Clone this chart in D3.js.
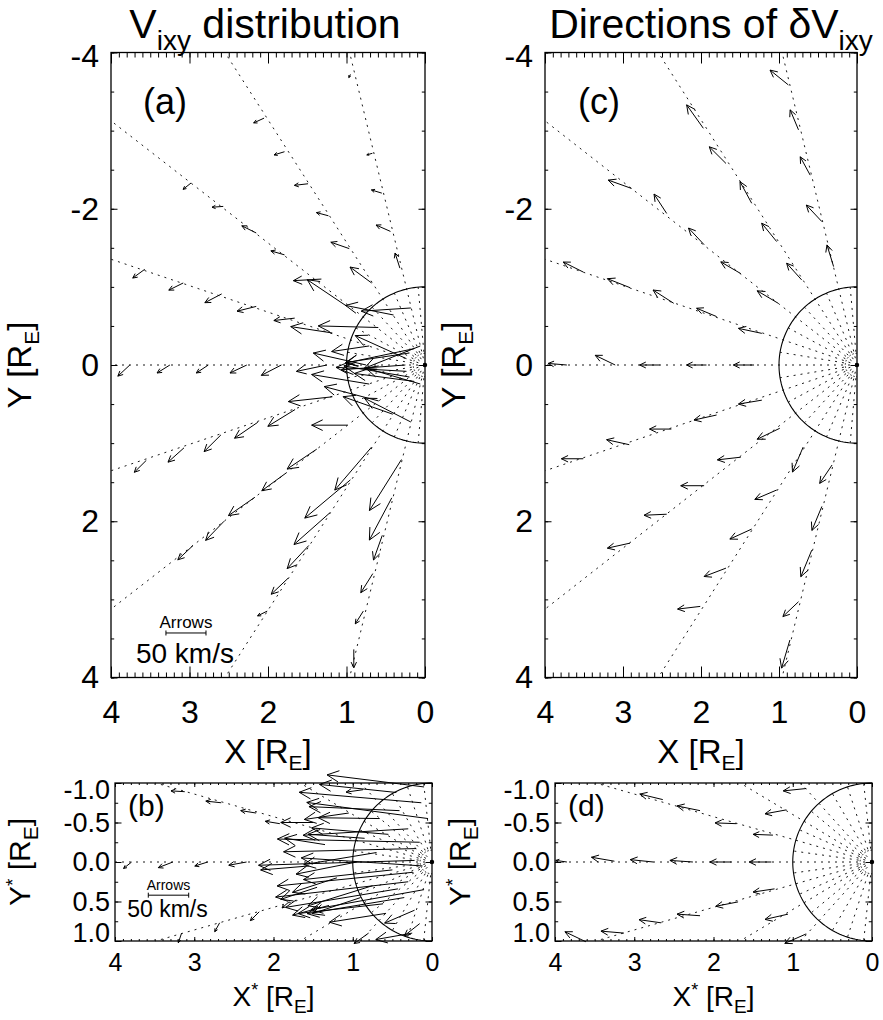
<!DOCTYPE html>
<html>
<head>
<meta charset="utf-8">
<script src="https://cdn.jsdelivr.net/npm/d3@7"></script>
<style>
  body { margin: 0; background: #fff; }
  text { font-family: "Liberation Sans", Arial, Helvetica, sans-serif; fill: #000; }
</style>
</head>
<body>
<svg id="fig" width="883" height="1020"></svg>
<script>
// ---- data ----
const xTickVals = [4, 3, 2, 1, 0];
const yTickValsTop = [-4, -2, 0, 2, 4];
const yTickValsBot = [-1.0, -0.5, 0.0, 0.5, 1.0];

// radial guide lines (degrees from the -X direction, + is +Y)
const rayAnglesTop = [-76.5, -57.5, -38, -18.7, 0, 18.7, 38, 57.5, 76.5];
const innerAnglesTop = [-85, -67, -47.7, -28.3, -9.4, 9.4, 28.3, 47.7, 67, 85];
const rayAnglesBot = [-48, -31, -16, 0, 16, 31, 48];
const innerAnglesBot = [-84, -72, -60, -40, -24, -8, 8, 24, 40, 60, 72, 84];

const legendKms = 50;
const kmsToRE = 0.0102;   // 50 km/s bar is about 0.51 RE long

// panel (a): [X, Y, Vx, Vy] km/s
const vecA = [
  [0.95,-3.72,2,4],[0.67,-2.71,7,2],[0.55,-2.2,13,-4],[0.44,-1.71,18,-8],[0.32,-1.24,6,-19],[0.18,-0.73,62,4],[0.06,-0.243,70,28],
  [2.05,-3.16,13,6],[1.79,-2.73,13,4],[1.49,-2.32,17,2],[1.23,-1.91,15,-4],[0.965,-1.49,23,-8],[0.68,-1.05,27,-20],[0.40,-0.64,60,-12],[0.136,-0.21,85,18],
  [2.98,-2.33,10,8],[2.57,-2.03,14,1],[2.15,-1.69,18,-9],[1.79,-1.41,17,-5],[1.32,-1.10,35,2],[1.0,-0.755,49,-33],[0.595,-0.48,75,-2],[0.197,-0.154,80,12],
  [3.57,-1.225,15,11],[3.08,-1.05,18,9],[2.59,-0.91,21,11],[2.15,-0.75,24,6],[1.66,-0.6,26,3],[1.18,-0.41,52,-8],[0.71,-0.244,47,7],[0.236,-0.081,64,-29],
  [3.76,0,15,14],[3.25,0,16,10],[2.76,0,15,10],[2.27,0,21,10],[1.83,0,25,13],[1.25,0,38,8],[0.75,0,66,-15],[0.25,0,80,6],
  [3.55,1.22,15,15],[3.07,1.06,20,18],[2.6,0.895,21,21],[2.13,0.733,29,20],[1.655,0.57,34,21],[1.18,0.407,55,6],[0.71,0.244,72,-12],[0.236,0.081,88,-5],
  [2.955,2.31,19,18],[2.56,2.0,23,24],[2.167,1.693,33,23],[1.773,1.385,30,22],[1.379,1.077,37,25],[0.985,0.77,45,0],[0.59,0.46,68,-18],[0.197,0.154,82,-14],
  [2.01,3.15,12,6],[1.745,2.73,21,20],[1.48,2.31,27,29],[1.21,1.89,45,40],[0.95,1.47,57,48],[0.68,1.05,46,54],[0.41,0.63,62,-22],[0.136,0.21,75,-10],
  [0.907,3.64,0,23],[0.786,3.15,10,16],[0.665,2.67,15,24],[0.544,2.18,11,31],[0.423,1.70,28,53],[0.30,1.21,40,64],[0.18,0.73,58,-30],[0.06,0.243,68,-20]
];

// panel (b): [X*, Y*, Vx, Vy] km/s
const vecB = [
  [1.92,-0.485,18,-3],[2.22,-0.62,19,-3],[2.66,-0.75,19,-2],[3.12,-0.89,17,-1],
  [2.34,0,22,4],[2.83,0,16,5],[3.27,0,18,7],[3.79,0,10,8],
  [1.8,0.5,9,8],[2.18,0.63,11,11],[2.68,0.77,6,11],[3.16,0.9,4,12],
  [0.87,-0.915,21,3],[0.8,0.9,18,13],
  [0.135,-0.75,151,-13],[0.41,-0.65,112,-5],[0.66,-0.55,76,-1],[0.155,-0.25,176,-4],
  [0.2,-0.17,164,4],[0.22,-0.02,193,6],[0.24,0.13,168,17],[0.3,0.25,164,19],
  [0.43,0.34,139,23],[0.62,0.53,105,12],[0.58,0.65,70,11],[0.22,0.61,37,16],
  [0.155,0.78,19,15],[0.1,-0.95,120,-15],[0.45,-0.88,95,-10],[0.3,-0.42,130,8],
  [0.55,-0.35,95,-8],[0.12,0.05,150,-10],[0.5,0.1,110,12],[0.7,-0.12,90,15],
  [0.35,0.45,120,20],[0.75,0.3,80,25],[0.1,0.35,140,25],[0.9,0.45,60,20],
  [0.85,-0.3,70,-5],[0.05,-0.55,150,-20],[0.95,0.0,75,15],[0.25,0.9,45,8],
  [1.05,-0.62,55,8],[1.2,0.2,55,18],[1.35,-0.22,50,-8],[1.3,0.55,45,12],
  [1.45,0.32,45,15],[1.5,-0.5,40,0],[1.55,0.05,60,5]
];

// panel (c): [X, Y, dX, dY] direction arrows, RE
const dirC = [
  [0.88,-3.585,0.235,-0.19],[0.75,-3.01,0.107,-0.256],[0.60,-2.43,0.128,-0.235],[0.45,-1.835,0.2,-0.213],[0.30,-1.26,0.085,-0.277],
  [1.97,-3.03,0.214,-0.30],[1.68,-2.58,0.214,-0.213],[1.35,-2.07,0.15,-0.277],[1.03,-1.58,0.192,-0.235],[0.71,-1.09,0.192,-0.213],
  [2.89,-2.26,0.30,-0.107],[2.44,-1.94,0.162,-0.248],[1.96,-1.54,0.2,-0.213],[1.49,-1.17,0.256,-0.15],[1.01,-0.79,0.27,-0.16],
  [3.51,-1.19,0.256,-0.128],[2.91,-0.99,0.29,-0.115],[2.35,-0.79,0.265,-0.17],[1.80,-0.62,0.256,-0.107],[1.22,-0.405,0.30,-0.064],
  [3.72,0,0.24,-0.02],[3.10,0,0.256,-0.124],[2.53,0,0.256,0],[1.93,0,0.256,0],[1.32,0,0.265,0],
  [1.22,0.45,0.30,0.05],[1.80,0.64,0.29,0.064],[2.38,0.82,0.28,0],[2.92,1.02,0.29,-0.064],[3.51,1.2,0.28,0],
  [0.99,0.81,0.29,0.14],[1.49,1.18,0.30,0.034],[1.96,1.545,0.30,0],[2.44,1.91,0.29,0.013],[2.91,2.28,0.29,0.064],
  [0.69,1.05,0.137,0.32],[1.03,1.6,0.28,0.12],[1.35,2.1,0.28,0.128],[1.68,2.6,0.28,0.107],[2.01,3.09,0.29,0.034],
  [0.32,1.28,0.158,0.235],[0.45,1.81,0.128,0.307],[0.58,2.37,0.14,0.34],[0.75,3.03,0.2,0.19],[0.86,3.52,0.107,0.36]
];

// panel (d): [X*, Y*, dX, dY] direction arrows, RE
const dirD = [
  [2.64,-0.79,0.29,-0.07],[2.17,-0.65,0.29,-0.06],[1.71,-0.485,0.27,-0.01],[1.25,-0.34,0.25,-0.01],
  [0.83,-0.93,0.29,0.03],[1.08,-0.66,0.27,0.05],
  [3.85,0,0.14,-0.02],[3.25,-0.01,0.29,-0.05],[2.76,0,0.29,-0.03],[2.26,0,0.29,-0.02],[1.775,0,0.27,0],[1.27,0,0.28,0],
  [1.23,0.34,0.27,0.04],[1.69,0.505,0.28,0.055],[2.17,0.68,0.29,-0.02],[2.66,0.77,0.28,-0.04],[3.13,0.9,0.29,-0.025],[3.61,1.01,0.265,-0.127],
  [1.06,0.66,0.29,0.067],[0.83,0.91,0.27,0.12]
];

// ---- layout ----
const svg = d3.select("#fig");

const panels = [
  { id: "a", x0: 111, x1: 425, y0: 52.5, y1: 677.5, yDom: [-4, 4], big: true,
    rays: rayAnglesTop, inner: innerAnglesTop, arrows: vecA, kms: true,
    tag: "(a)", tagX: 143, tagY: 114, legend: { x: 3.30, y: 3.43 } },
  { id: "c", x0: 545, x1: 857, y0: 52.5, y1: 677.5, yDom: [-4, 4], big: true,
    rays: rayAnglesTop, inner: innerAnglesTop, arrows: dirC, kms: false,
    tag: "(c)", tagX: 578, tagY: 114 },
  { id: "b", x0: 115, x1: 432, y0: 783, y1: 941, yDom: [-1, 1], big: false,
    rays: rayAnglesBot, inner: innerAnglesBot, arrows: vecB, kms: true,
    tag: "(b)", tagX: 128, tagY: 816, legend: { x: 3.58, y: 0.42 } },
  { id: "d", x0: 555, x1: 872, y0: 783, y1: 941, yDom: [-1, 1], big: false,
    rays: rayAnglesBot, inner: innerAnglesBot, arrows: dirD, kms: false,
    tag: "(d)", tagX: 568, tagY: 816 }
];

const line = (x, y) => d3.line().x(d => x(d[0])).y(d => y(d[1]));

function arrow(g, x1, y1, x2, y2, w) {
  const dx = x2 - x1, dy = y2 - y1;
  const L = Math.hypot(dx, dy);
  if (L < 0.5) return;
  const a = Math.atan2(dy, dx);
  const h = Math.max(2.5, Math.min(13, 0.34 * L));
  const s = Math.PI / 7;
  const p1 = [x2 - h * Math.cos(a - s), y2 - h * Math.sin(a - s)];
  const p2 = [x2 - h * Math.cos(a + s), y2 - h * Math.sin(a + s)];
  g.append("path")
    .attr("d", `M${x1},${y1}L${x2},${y2}M${p1[0]},${p1[1]}L${x2},${y2}L${p2[0]},${p2[1]}`)
    .attr("fill", "none").attr("stroke", "#000").attr("stroke-width", w);
}

panels.forEach(p => {
  const x = d3.scaleLinear().domain([4, 0]).range([p.x0, p.x1]);
  const y = d3.scaleLinear().domain(p.yDom).range([p.y0, p.y1]);
  const ymax = p.yDom[1];
  const g = svg.append("g");
  const ln = line(x, y);

  // radial dotted guide lines to the frame
  p.rays.forEach(t => {
    const r = t * Math.PI / 180;
    const rmax = Math.min(4 / Math.cos(r), Math.abs(Math.sin(r)) > 1e-6 ? ymax / Math.abs(Math.sin(r)) : 1e9);
    g.append("path").attr("d", ln([[0, 0], [rmax * Math.cos(r), rmax * Math.sin(r)]]))
      .attr("stroke", "#000").attr("stroke-width", 0.9).attr("stroke-dasharray", "2,5").attr("fill", "none");
  });
  p.inner.forEach(t => {
    const r = t * Math.PI / 180;
    g.append("path").attr("d", ln([[0.17 * Math.cos(r), 0.17 * Math.sin(r)], [Math.cos(r), Math.sin(r)]]))
      .attr("stroke", "#000").attr("stroke-width", 0.9).attr("stroke-dasharray", "2,5").attr("fill", "none");
  });

  // unit circle (half facing +X) and small dotted ring at the origin
  const half = d3.range(-90, 90.1, 2).map(a => [Math.cos(a * Math.PI / 180), Math.sin(a * Math.PI / 180)]);
  g.append("path").attr("d", ln(half)).attr("fill", "none").attr("stroke", "#000").attr("stroke-width", 1.1);
  g.append("path").attr("d", ln(half.map(d => [0.15 * d[0], 0.15 * d[1]])))
    .attr("fill", "none").attr("stroke", "#000").attr("stroke-width", 1).attr("stroke-dasharray", "1.5,1.8");
  g.append("circle").attr("cx", x(0)).attr("cy", y(0)).attr("r", 2.2).attr("fill", "#000");

  // arrows
  p.arrows.forEach(d => {
    const k = p.kms ? kmsToRE : 1;
    arrow(g, x(d[0]), y(d[1]), x(d[0] + d[2] * k), y(d[1] + d[3] * k), 1);
  });

  // axes (IDL style: inward ticks on all four sides)
  const xMinor = d3.range(0, 4.001, 0.1);
  const yMinor = p.big ? d3.range(-4, 4.001, 0.5) : d3.range(-1, 1.001, 0.25);
  const xMaj = p.big ? 11 : 4, xMin = p.big ? 5 : 2;
  const yMaj = 6.5, yMin = 3.2;
  const clean = s => s.select(".domain").remove();

  const axG = g.append("g").attr("stroke-width", 1);
  axG.append("g").attr("transform", `translate(0,${p.y1})`)
    .call(d3.axisBottom(x).tickValues(xMinor).tickSize(-xMin).tickFormat("")).call(clean);
  axG.append("g").attr("transform", `translate(0,${p.y0})`)
    .call(d3.axisTop(x).tickValues(xMinor).tickSize(-xMin).tickFormat("")).call(clean);
  axG.append("g").attr("transform", `translate(0,${p.y0})`)
    .call(d3.axisTop(x).tickValues(xTickVals).tickSize(-xMaj).tickFormat("")).call(clean);
  const xb = axG.append("g").attr("transform", `translate(0,${p.y1})`)
    .call(d3.axisBottom(x).tickValues(xTickVals).tickSize(-xMaj).tickPadding(p.big ? 23 : 12).tickFormat(d => String(d)))
    .call(clean);
  xb.selectAll("text").style("font-size", (p.big ? 32 : 25) + "px").attr("fill", "#000");

  axG.append("g").attr("transform", `translate(${p.x0},0)`)
    .call(d3.axisLeft(y).tickValues(yMinor).tickSize(-yMin).tickFormat("")).call(clean);
  axG.append("g").attr("transform", `translate(${p.x1},0)`)
    .call(d3.axisRight(y).tickValues(yMinor).tickSize(-yMin).tickFormat("")).call(clean);
  axG.append("g").attr("transform", `translate(${p.x1},0)`)
    .call(d3.axisRight(y).tickValues(p.big ? yTickValsTop : yTickValsBot).tickSize(-yMaj).tickFormat("")).call(clean);
  const yl = axG.append("g").attr("transform", `translate(${p.x0},0)`)
    .call(d3.axisLeft(y).tickValues(p.big ? yTickValsTop : yTickValsBot).tickSize(-yMaj).tickPadding(p.big ? 12 : 5)
      .tickFormat(d => p.big ? String(d) : d.toFixed(1)))
    .call(clean);
  yl.selectAll("text").style("font-size", (p.big ? 32 : 27) + "px").attr("fill", "#000")
    .attr("y", d => p.big ? (d === -4 ? 4 : 0) : (d === -1 ? 7 : d === 1 ? -8 : 0));
  axG.selectAll(".tick line").attr("stroke", "#000");

  // frame
  g.append("rect").attr("x", p.x0).attr("y", p.y0).attr("width", p.x1 - p.x0).attr("height", p.y1 - p.y0)
    .attr("fill", "none").attr("stroke", "#000").attr("stroke-width", 1.3);

  // panel tag
  g.append("text").attr("x", p.tagX).attr("y", p.tagY).style("font-size", p.big ? "36px" : "30px").text(p.tag);

  // velocity legend
  if (p.legend) {
    const L = legendKms * kmsToRE;
    const lx0 = x(p.legend.x), lx1 = x(p.legend.x - L), ly = y(p.legend.y);
    const mid = (lx0 + lx1) / 2;
    g.append("path").attr("d", `M${lx0},${ly}H${lx1}M${lx0},${ly - 2.5}V${ly + 2.5}M${lx1},${ly - 2.5}V${ly + 2.5}`)
      .attr("stroke", "#000").attr("stroke-width", 1);
    g.append("text").attr("x", mid).attr("y", ly - 5).attr("text-anchor", "middle")
      .style("font-size", p.big ? "17px" : "14px").text("Arrows");
    g.append("text").attr("x", mid - 1).attr("y", ly + (p.big ? 30 : 22)).attr("text-anchor", "middle")
      .style("font-size", p.big ? "28px" : "23px").text(legendKms + " km/s");
  }

  // axis titles
  const cx = (p.x0 + p.x1) / 2, cy = (p.y0 + p.y1) / 2;
  const star = !p.big;
  const xt = g.append("text").attr("x", cx).attr("y", p.big ? 763 : 1006).attr("text-anchor", "middle")
    .style("font-size", p.big ? "33px" : "28px");
  xt.append("tspan").text("X");
  if (star) xt.append("tspan").attr("dy", -10).style("font-size", "18px").text("*");
  xt.append("tspan").attr("dy", star ? 10 : 0).text(" [R");
  xt.append("tspan").attr("dy", 7).style("font-size", p.big ? "21px" : "19px").text("E");
  xt.append("tspan").attr("dy", -7).text("]");

  const ytx = p.x0 - (p.big ? 80 : 85);
  const yt = g.append("text").attr("transform", `translate(${ytx},${cy}) rotate(-90)`).attr("text-anchor", "middle")
    .style("font-size", p.big ? "33px" : "30px");
  yt.append("tspan").text("Y");
  if (star) yt.append("tspan").attr("dy", -11).style("font-size", "19px").text("*");
  yt.append("tspan").attr("dy", star ? 11 : 0).text(" [R");
  yt.append("tspan").attr("dy", 8).style("font-size", "21px").text("E");
  yt.append("tspan").attr("dy", -8).text("]");
});

// titles
function title(cx, main, greek) {
  const t = svg.append("text").attr("x", cx).attr("y", 38).attr("text-anchor", "middle").style("font-size", "41px");
  if (greek) {
    t.append("tspan").text(main + "\u03B4V");
    t.append("tspan").attr("dy", 12).style("font-size", "28px").text("ixy");
  } else {
    t.append("tspan").text("V");
    t.append("tspan").attr("dy", 12).style("font-size", "28px").text("ixy");
    t.append("tspan").attr("dy", -12).text(" " + main);
  }
}
title(265, "distribution", false);
title(711, "Directions of ", true);
</script>
</body>
</html>
